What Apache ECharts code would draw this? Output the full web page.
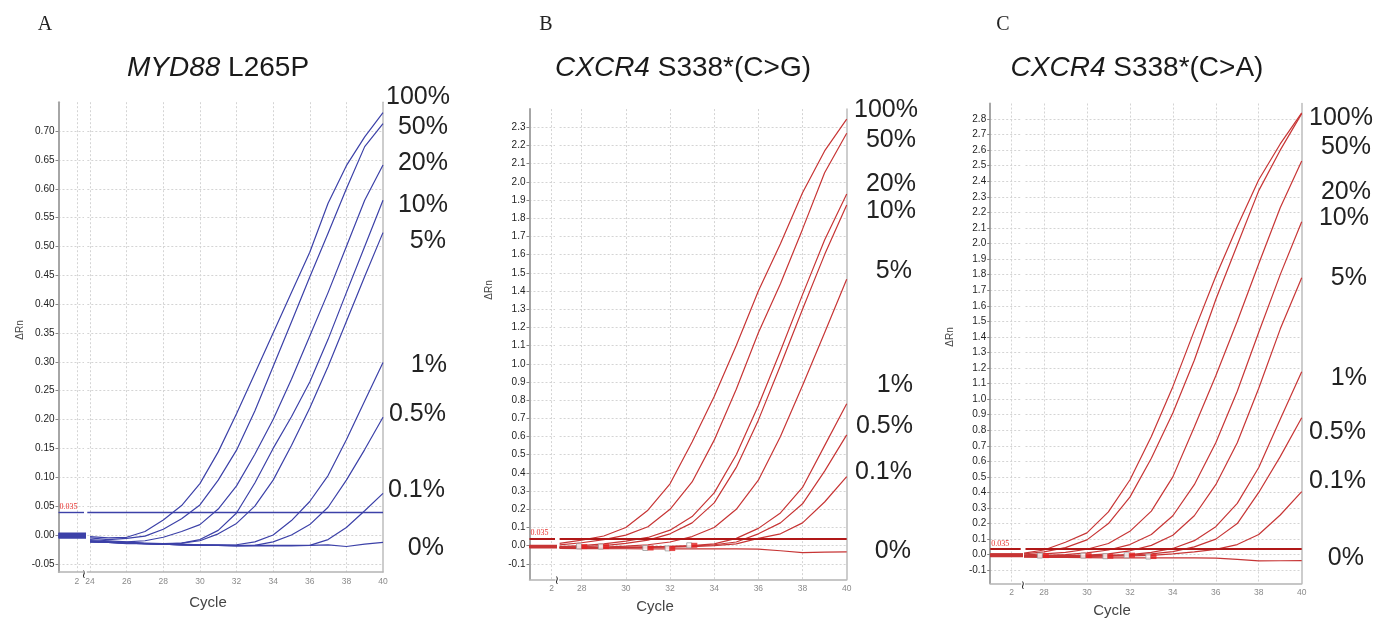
<!DOCTYPE html>
<html><head><meta charset="utf-8">
<script src="https://cdn.jsdelivr.net/npm/echarts@6/dist/echarts.min.js"></script>
<style>html,body{margin:0;padding:0;background:#fff}#c{width:1375px;height:621px}</style>
</head><body><div id="c"></div>
<script>
// ---------------- DATA ----------------
const LEVELS = ['100%','50%','20%','10%','5%','1%','0.5%','0.1%','0%'];
const EARLY_CYCLES = [1, 2, 3];
const CYCLES_A = [24,25,26,27,28,29,30,31,32,33,34,35,36,37,38,39,40];
const CYCLES_BC = [27,28,29,30,31,32,33,34,35,36,37,38,39,40];
const THRESHOLD = 0.035;

// Panel A: MYD88 L265P (cycles 24..40)
const A_100 = [-0.003,-0.005,-0.004,0.006,0.026,0.051,0.089,0.144,0.21,0.28,0.35,0.42,0.49,0.575,0.64,0.69,0.732];
const A_50  = [-0.005,-0.008,-0.006,-0.002,0.01,0.028,0.052,0.095,0.147,0.215,0.292,0.369,0.447,0.523,0.60,0.673,0.713];
const A_20  = [-0.008,-0.01,-0.012,-0.01,-0.004,0.006,0.018,0.045,0.085,0.14,0.2,0.27,0.345,0.42,0.5,0.58,0.641];
const A_10  = [-0.01,-0.012,-0.013,-0.014,-0.015,-0.014,-0.008,0.008,0.038,0.09,0.15,0.205,0.265,0.339,0.42,0.50,0.58];
const A_5   = [-0.01,-0.012,-0.013,-0.015,-0.016,-0.014,-0.01,0.002,0.02,0.05,0.095,0.155,0.22,0.292,0.37,0.448,0.524];
const A_1   = [-0.012,-0.013,-0.014,-0.015,-0.016,-0.017,-0.017,-0.018,-0.017,-0.012,0.0,0.025,0.058,0.103,0.165,0.232,0.299];
const A_05  = [-0.011,-0.012,-0.014,-0.015,-0.016,-0.017,-0.018,-0.018,-0.019,-0.018,-0.012,0.0,0.018,0.048,0.095,0.148,0.204];
const A_01  = [-0.012,-0.013,-0.014,-0.015,-0.016,-0.017,-0.018,-0.018,-0.019,-0.019,-0.019,-0.019,-0.018,-0.008,0.013,0.042,0.072];
const A_0   = [-0.012,-0.013,-0.015,-0.015,-0.016,-0.016,-0.017,-0.017,-0.018,-0.018,-0.018,-0.018,-0.018,-0.017,-0.02,-0.016,-0.013];
const A_EARLY = [[0.003,0.003,0.003],[0.002,0.002,0.002],[0.001,0.001,0.001],[0.0,0.0,0.0],[-0.001,-0.001,-0.001],[-0.002,-0.002,-0.002],[-0.003,-0.003,-0.003],[-0.004,-0.004,-0.004],[-0.005,-0.005,-0.005]];

// Panel B: CXCR4 S338*(C>G) (cycles 27..40)
const B_100 = [0.012,0.03,0.053,0.1,0.195,0.34,0.57,0.82,1.1,1.4,1.66,1.94,2.17,2.345];
const B_50  = [0.004,0.016,0.033,0.058,0.104,0.2,0.35,0.58,0.86,1.17,1.44,1.74,2.05,2.267];
const B_20  = [-0.005,0.0,0.01,0.025,0.045,0.085,0.16,0.29,0.5,0.77,1.07,1.38,1.68,1.933];
const B_10  = [-0.008,-0.005,0.0,0.012,0.03,0.065,0.125,0.235,0.43,0.69,0.99,1.3,1.6,1.873];
const B_5   = [-0.01,-0.01,-0.008,-0.003,0.005,0.02,0.05,0.1,0.2,0.36,0.6,0.88,1.17,1.465];
const B_1   = [-0.01,-0.01,-0.01,-0.008,-0.006,-0.004,0.0,0.01,0.04,0.095,0.18,0.32,0.55,0.78];
const B_05  = [-0.012,-0.012,-0.012,-0.01,-0.008,-0.005,-0.002,0.005,0.02,0.065,0.125,0.23,0.41,0.609];
const B_01  = [-0.013,-0.013,-0.013,-0.012,-0.01,-0.008,-0.005,0.0,0.01,0.04,0.065,0.125,0.24,0.379];
const B_0   = [-0.015,-0.016,-0.017,-0.017,-0.018,-0.018,-0.018,-0.018,-0.018,-0.019,-0.028,-0.038,-0.036,-0.034];
const B_EARLY = [[0.0,0.0,0.0],[-0.001,-0.001,-0.001],[-0.002,-0.002,-0.002],[-0.004,-0.004,-0.004],[-0.005,-0.005,-0.005],[-0.006,-0.006,-0.006],[-0.008,-0.008,-0.008],[-0.009,-0.009,-0.009],[-0.011,-0.011,-0.011]];
const B_CT_MARK   = [[28.12,-0.005],[29.1,-0.005],[31.12,-0.013],[32.1,-0.016],[33.1,0.002]];
const B_BASE_MARK = [[27.88,-0.004],[28.87,-0.005],[30.88,-0.013],[31.89,-0.015],[32.87,0.002]];

// Panel C: CXCR4 S338*(C>A) (cycles 27..40)
const C_100 = [0.008,0.03,0.08,0.14,0.275,0.48,0.76,1.08,1.44,1.79,2.11,2.41,2.64,2.84];
const C_50  = [0.004,0.018,0.045,0.095,0.2,0.37,0.62,0.91,1.25,1.64,1.99,2.34,2.6,2.835];
const C_20  = [-0.002,0.005,0.015,0.035,0.072,0.15,0.28,0.5,0.82,1.15,1.5,1.87,2.23,2.53];
const C_10  = [-0.006,-0.004,0.0,0.012,0.03,0.065,0.13,0.25,0.45,0.72,1.05,1.43,1.8,2.14];
const C_5   = [-0.008,-0.007,-0.005,-0.003,0.005,0.025,0.06,0.125,0.25,0.45,0.72,1.07,1.45,1.78];
const C_1   = [-0.008,-0.008,-0.007,-0.006,-0.004,0.0,0.015,0.04,0.09,0.18,0.33,0.56,0.87,1.176];
const C_05  = [-0.01,-0.01,-0.009,-0.008,-0.006,-0.002,0.005,0.02,0.05,0.1,0.2,0.4,0.63,0.88];
const C_01  = [-0.012,-0.012,-0.012,-0.011,-0.01,-0.008,-0.004,0.005,0.018,0.034,0.065,0.13,0.255,0.405];
const C_0   = [-0.015,-0.017,-0.018,-0.019,-0.02,-0.02,-0.02,-0.021,-0.021,-0.022,-0.03,-0.04,-0.039,-0.038];
const C_EARLY = [[0.004,0.004,0.004],[0.002,0.002,0.002],[0.0,0.0,0.0],[-0.002,-0.002,-0.002],[-0.004,-0.004,-0.004],[-0.006,-0.006,-0.006],[-0.008,-0.008,-0.008],[-0.01,-0.01,-0.01],[-0.012,-0.012,-0.012]];
const C_CT_MARK   = [[28.09,-0.006],[30.08,-0.006],[31.09,-0.01],[32.1,-0.003],[33.1,-0.012]];
const C_BASE_MARK = [[27.81,-0.006],[29.83,-0.006],[30.86,-0.01],[31.85,-0.004],[32.86,-0.012]];

// ---------------- LAYOUT / STYLE ----------------
const FONT = "'Liberation Sans', Arial, sans-serif";
const SERIF = "'Liberation Serif', 'Times New Roman', serif";
const PANELS = [
  { letter:'A', letterX:45, gene:'MYD88', mut:' L265P', titleX:218,
    color:'#3c41a8', thrColor:'#3c41a8', thrWidth:1.4,
    top:102.2, height:469.7, yMin:-0.064, yMax:0.75, yStep:0.05, dec:2,
    seg:{left:58.5, width:25.5, max:2.39}, main:{left:87.3, width:295.7, min:23.85},
    cycles:CYCLES_A, curves:[A_100,A_50,A_20,A_10,A_5,A_1,A_05,A_01,A_0], early:A_EARLY,
    labX:[450,448,448,448,446,447,446,445,444], labY:[97,127,163,205,241,365,414,490,548],
    yNameX:20, yNameY:330, cycleX:208, cycleY:603, breakX:84, breakY:575 },
  { letter:'B', letterX:546, gene:'CXCR4', mut:' S338*(C>G)', titleX:683,
    color:'#c73535', thrColor:'#b01818', thrWidth:2,
    top:109.1, height:470.2, yMin:-0.185, yMax:2.4, yStep:0.1, dec:1,
    seg:{left:529.5, width:25.5, max:2.154}, main:{left:559.6, width:287.1, min:27},
    cycles:CYCLES_BC, curves:[B_100,B_50,B_20,B_10,B_5,B_1,B_05,B_01,B_0], early:B_EARLY,
    ct:B_CT_MARK, base:B_BASE_MARK,
    labX:[918,916,916,916,912,913,913,912,911], labY:[110,140,184,211,271,385,426,472,551],
    yNameX:489, yNameY:290, cycleX:655, cycleY:607, breakX:557, breakY:581 },
  { letter:'C', letterX:1003, gene:'CXCR4', mut:' S338*(C>A)', titleX:1137,
    color:'#c73535', thrColor:'#b01818', thrWidth:2,
    top:103.5, height:479.8, yMin:-0.184, yMax:2.9, yStep:0.1, dec:1,
    seg:{left:990.2, width:30.5, max:2.42}, main:{left:1025.5, width:276.2, min:27.14},
    cycles:CYCLES_BC, curves:[C_100,C_50,C_20,C_10,C_5,C_1,C_05,C_01,C_0], early:C_EARLY,
    ct:C_CT_MARK, base:C_BASE_MARK,
    labX:[1373,1371,1371,1369,1367,1367,1366,1366,1364], labY:[118,147,192,218,278,378,432,481,558],
    yNameX:950, yNameY:337, cycleX:1112, cycleY:611, breakX:1023, breakY:586 }
];

const GRID_LINE = { show:true, showMinLine:false, showMaxLine:false, lineStyle:{ color:'#d4d4d4', width:1, type:[2,2] } };

const option = { animation:false, grid:[], xAxis:[], yAxis:[], series:[], graphic:[] };

function pts(cycles, vals){ return cycles.map((c,i)=>[c, vals[i]]); }

function xAxisCfg(gridIndex, min, max, step, showMax){
  return { type:'value', gridIndex, min, max, minInterval:step, maxInterval:step,
    axisLine:{ show:true, onZero:false, lineStyle:{ color:'#b4b4b4', width:1.5 } },
    axisTick:{ show:false },
    axisLabel:{ show:true, showMinLabel:false, showMaxLabel:showMax, fontSize:8.5, color:'#8a8a8a', fontFamily:FONT, margin:5 },
    splitLine: GRID_LINE };
}
function yAxisCfg(gridIndex, P, visible){
  return { type:'value', gridIndex, min:P.yMin, max:P.yMax, minInterval:P.yStep, maxInterval:P.yStep,
    axisLine:{ show:visible, onZero:false, lineStyle:{ color:'#a6a6a6', width:2 } },
    axisTick:{ show:visible, length:3, lineStyle:{ color:'#888' } },
    axisLabel:{ show:visible, showMinLabel:false, showMaxLabel:false, fontSize:10, color:'#222', fontFamily:FONT, margin:4,
      formatter:(v)=>v.toFixed(P.dec) },
    splitLine: GRID_LINE };
}

function txt(x, y, text, style, extra){
  return Object.assign({ type:'text', x, y, silent:true,
    style:Object.assign({ text, fill:'#222', fontFamily:FONT, fontSize:12, align:'left', textAlign:'left', verticalAlign:'middle', textVerticalAlign:'middle' }, style) }, extra||{});
}

PANELS.forEach((P)=>{
  const gi = option.grid.length, xi = option.xAxis.length, yi = option.yAxis.length;
  option.grid.push({ left:P.seg.left, top:P.top, width:P.seg.width, height:P.height });
  option.grid.push({ left:P.main.left, top:P.top, width:P.main.width, height:P.height });
  option.xAxis.push(xAxisCfg(gi, 1, P.seg.max, 1, false));
  option.xAxis.push(xAxisCfg(gi+1, P.main.min, 40, 2, true));
  option.yAxis.push(yAxisCfg(gi, P, true));
  option.yAxis.push(yAxisCfg(gi+1, P, false));
  option.yAxis.push({ type:'value', gridIndex:gi+1, position:'right', min:0, max:1,
    axisLine:{ show:true, lineStyle:{ color:'#bdbdbd', width:1.5 } }, axisTick:{show:false}, axisLabel:{show:false}, splitLine:{show:false} });

  const thr = (withLabel)=>({ silent:true, symbol:['none','none'], animation:false,
    lineStyle:{ color:P.thrColor, width:P.thrWidth, type:'solid' },
    label: withLabel ? { show:true, position:'insideStartTop', formatter:'0.035', color:'#e8302c', fontSize:8, fontFamily:SERIF, distance:1, padding:0 } : { show:false },
    emphasis:{ disabled:true },
    data:[{ yAxis:THRESHOLD }] });

  LEVELS.forEach((lv, k)=>{
    const seg = { type:'line', name:lv, xAxisIndex:xi, yAxisIndex:yi, data:pts(EARLY_CYCLES, P.early[k]),
      showSymbol:false, symbol:'none', lineStyle:{ color:P.color, width:1.6 }, itemStyle:{color:P.color}, z:3, silent:true };
    const main = { type:'line', name:lv, xAxisIndex:xi+1, yAxisIndex:yi+1, data:pts(P.cycles, P.curves[k]),
      showSymbol:false, symbol:'none', lineStyle:{ color:P.color, width:1.2 }, itemStyle:{color:P.color}, z:3, silent:true };
    if (k === 0){ seg.markLine = thr(true); main.markLine = thr(false); }
    option.series.push(seg, main);
  });
  if (P.ct){
    option.series.push({ type:'scatter', xAxisIndex:xi+1, yAxisIndex:yi+1, data:P.base, symbol:'rect', symbolSize:[5,5],
      itemStyle:{ color:'#ffffff', borderColor:'#9a9a9a', borderWidth:1 }, z:5, silent:true });
    option.series.push({ type:'scatter', xAxisIndex:xi+1, yAxisIndex:yi+1, data:P.ct, symbol:'rect', symbolSize:[6,5],
      itemStyle:{ color:'#e32222' }, z:6, silent:true });
  }

  // texts
  option.graphic.push(txt(P.letterX, 25, P.letter, { fontFamily:SERIF, fontSize:20, align:'center', textAlign:'center', fill:'#222' }));
  option.graphic.push(txt(P.titleX, 68, '{i|'+P.gene+'}'+P.mut, { fontSize:28, align:'center', textAlign:'center', fill:'#1a1a1a',
    rich:{ i:{ fontStyle:'italic', fontSize:28, fontFamily:FONT, fill:'#1a1a1a' } } }));
  LEVELS.forEach((lv,k)=>{
    option.graphic.push(txt(P.labX[k], P.labY[k], lv, { fontSize:25, align:'right', textAlign:'right', fill:'#222' }));
  });
  option.graphic.push(txt(P.yNameX, P.yNameY, 'ΔRn', { fontSize:10, align:'center', textAlign:'center', fill:'#444' }, { rotation:Math.PI/2 }));
  option.graphic.push(txt(P.cycleX, P.cycleY, 'Cycle', { fontSize:15, align:'center', textAlign:'center', fill:'#444' }));
  option.graphic.push(txt(P.breakX, P.breakY, '≀', { fontSize:12, fontFamily:"'DejaVu Sans', sans-serif", align:'center', textAlign:'center', fill:'#222' }));
});

const chart = echarts.init(document.getElementById('c'), null, { renderer:'canvas' });
chart.setOption(option);
</script>
</body></html>
